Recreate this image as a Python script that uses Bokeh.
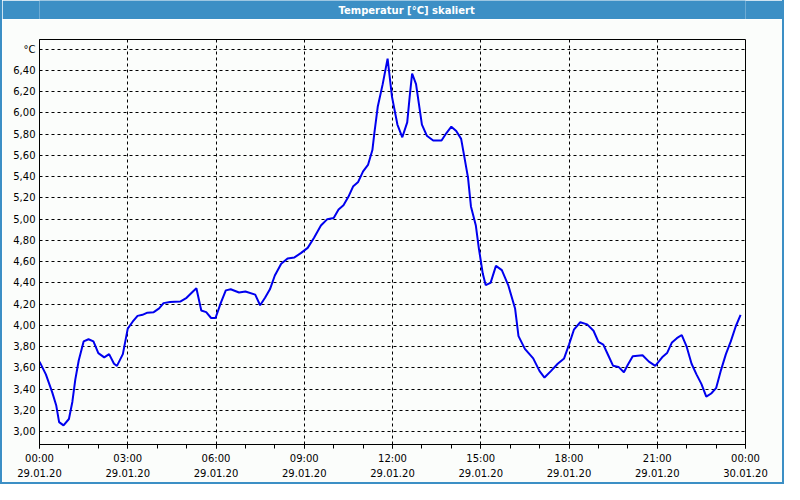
from bokeh.plotting import figure
from bokeh.models import FixedTicker
from bokeh.layouts import column
from bokeh.embed import file_html
from bokeh.resources import INLINE
from bokeh.core.properties import value

title_text = "Temperatur [°C] skaliert"

times = [
    "00:00", "00:13", "00:26", "00:34", "00:40", "00:49", "01:00", "01:07", "01:13", "01:20",
    "01:30", "01:40", "01:50", "02:00", "02:12", "02:22", "02:32", "02:38", "02:50", "03:00",
    "03:10", "03:20", "03:30", "03:40", "03:53", "04:04", "04:13", "04:26", "04:47", "05:00",
    "05:13", "05:20", "05:30", "05:40", "05:50", "05:59", "06:10", "06:20", "06:30", "06:47",
    "07:00", "07:20", "07:30", "07:40", "07:50", "08:00", "08:13", "08:26", "08:40", "08:53",
    "09:07", "09:20", "09:34", "09:47", "10:00", "10:10", "10:20", "10:30", "10:40", "10:50",
    "11:00", "11:10", "11:19", "11:23", "11:30", "11:40", "11:50", "11:53", "11:59", "12:10",
    "12:20", "12:30", "12:35", "12:40", "12:48", "13:00", "13:10", "13:23", "13:40", "13:50",
    "14:00", "14:10", "14:20", "14:26", "14:34", "14:40", "14:50", "14:56", "15:04", "15:10",
    "15:20", "15:31", "15:43", "15:56", "16:10", "16:17", "16:30", "16:47", "17:00", "17:10",
    "17:23", "17:37", "17:50", "18:00", "18:10", "18:23", "18:37", "18:50", "19:00", "19:10",
    "19:20", "19:30", "19:41", "19:52", "20:00", "20:10", "20:30", "20:43", "20:56", "21:10",
    "21:20", "21:30", "21:40", "21:50", "22:00", "22:10", "22:20", "22:30", "22:40", "22:50",
    "23:00", "23:10", "23:20", "23:30", "23:40", "23:50",
]

temps = [
    3.66, 3.54, 3.37, 3.25, 3.09, 3.06, 3.12, 3.28, 3.49, 3.67,
    3.85, 3.87, 3.85, 3.74, 3.70, 3.73, 3.64, 3.62, 3.73, 3.97,
    4.035, 4.09, 4.10, 4.12, 4.125, 4.16, 4.21, 4.22, 4.225, 4.26,
    4.32, 4.35, 4.14, 4.125, 4.07, 4.07, 4.215, 4.33, 4.34, 4.31,
    4.32, 4.29, 4.19, 4.26, 4.34, 4.47, 4.58, 4.63, 4.64, 4.68,
    4.73, 4.825, 4.94, 5.00, 5.01, 5.09, 5.13, 5.21, 5.31, 5.35,
    5.45, 5.51, 5.65, 5.81, 6.06, 6.27, 6.51, 6.39, 6.15, 5.89,
    5.77, 5.91, 6.15, 6.37, 6.27, 5.89, 5.785, 5.74, 5.74, 5.81,
    5.87, 5.83, 5.755, 5.60, 5.39, 5.12, 4.94, 4.73, 4.49, 4.38,
    4.40, 4.56, 4.52, 4.38, 4.16, 3.90, 3.78, 3.69, 3.57, 3.51,
    3.57, 3.64, 3.69, 3.82, 3.96, 4.03, 4.01, 3.95, 3.845, 3.82,
    3.72, 3.62, 3.61, 3.56, 3.63, 3.71, 3.72, 3.66, 3.62, 3.70,
    3.74, 3.84, 3.88, 3.91, 3.80, 3.64, 3.54, 3.45, 3.33, 3.36,
    3.41, 3.58, 3.73, 3.85, 3.99, 4.10,
]

x_tick_hours = [0, 3, 6, 9, 12, 15, 18, 21, 24]
x_tick_labels = [
    "00:00\n29.01.20", "03:00\n29.01.20", "06:00\n29.01.20", "09:00\n29.01.20",
    "12:00\n29.01.20", "15:00\n29.01.20", "18:00\n29.01.20", "21:00\n29.01.20",
    "00:00\n30.01.20",
]
x_minor_hours = list(range(25))

y_ticks = [3.0, 3.2, 3.4, 3.6, 3.8, 4.0, 4.2, 4.4, 4.6, 4.8, 5.0, 5.2, 5.4, 5.6, 5.8,
           6.0, 6.2, 6.4, 6.6]
y_tick_labels = ["3,00", "3,20", "3,40", "3,60", "3,80", "4,00", "4,20", "4,40", "4,60",
                 "4,80", "5,00", "5,20", "5,40", "5,60", "5,80", "6,00", "6,20", "6,40", "°C"]

hours = [int(s[:2]) + int(s[3:]) / 60.0 for s in times]

BLUE = "#3c8fc5"
BG = "#fbfdfb"
FONT = "DejaVu Sans"

# title bar
bar = figure(width=780, height=19, x_range=(0, 1), y_range=(0, 1),
             output_backend="svg", toolbar_location=None,
             min_border=0, background_fill_color=BLUE, border_fill_color=BLUE)
bar.axis.visible = False
bar.grid.visible = False
bar.outline_line_color = None
bar.text(x=[0.52], y=[0.5], text=[title_text], text_color="white",
         text_font=value(FONT), text_font_style="bold", text_font_size="10px",
         text_align="center", text_baseline="middle")

# main chart
p = figure(width=780, height=463, x_range=(0, 24), y_range=(2.88, 6.69),
           output_backend="svg", toolbar_location=None,
           min_border_left=37, min_border_right=37, min_border_top=20, min_border_bottom=36,
           background_fill_color=BG, border_fill_color=BG)

p.line(hours, temps, line_color="#0000ee", line_width=2)

p.xaxis.ticker = FixedTicker(ticks=x_tick_hours, minor_ticks=x_minor_hours)
p.xaxis.major_label_overrides = dict(zip(x_tick_hours, x_tick_labels))
p.yaxis.ticker = FixedTicker(ticks=y_ticks)
p.yaxis.major_label_overrides = dict(zip(y_ticks, y_tick_labels))

for ax in (p.xaxis, p.yaxis):
    ax.axis_line_color = "black"
    ax.axis_line_width = 1
    ax.major_tick_line_color = "black"
    ax.minor_tick_line_color = "black"
    ax.major_label_text_font = FONT
    ax.major_label_text_font_size = "10px"
    ax.major_label_text_color = "black"
    ax.major_tick_in = 0
    ax.minor_tick_in = 0

p.xaxis.major_tick_out = 4
p.xaxis.minor_tick_out = 4
p.xaxis.major_label_standoff = 4
p.xaxis.major_label_text_line_height = 1.45
p.yaxis.major_tick_out = 0
p.yaxis.minor_tick_out = 0
p.yaxis.major_label_standoff = 4

for g in (p.xgrid, p.ygrid):
    g.grid_line_color = "black"
    g.grid_line_dash = "3 3"
    g.grid_line_width = 1
    g.grid_line_alpha = 1

p.outline_line_color = "black"
p.outline_line_alpha = 1
p.outline_line_width = 1

layout = column(bar, p, spacing=0,
                styles={"border-left": f"2px solid {BLUE}", "border-right": f"2px solid {BLUE}",
                        "border-bottom": f"2px solid {BLUE}"})

open("out.html", "w").write(file_html(layout, INLINE))
